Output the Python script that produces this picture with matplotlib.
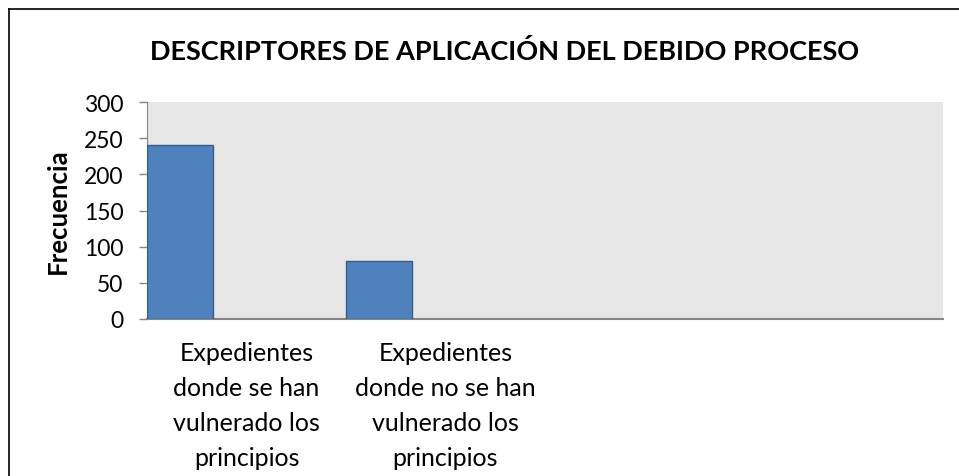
import numpy as np
import matplotlib
matplotlib.use("Agg")
from matplotlib import pyplot as plt
from matplotlib.lines import Line2D

# datos
categorias = [
    "Expedientes\ndonde se han\nvulnerado los\nprincipios",
    "Expedientes\ndonde no se han\nvulnerado los\nprincipios",
    "",
    "",
]
frecuencia = [240, 80, np.nan, np.nan]
yticks = [0, 50, 100, 150, 200, 250, 300]

plt.rcParams['font.family'] = ['Lato', 'DejaVu Sans']

W, H = 959, 477
fig = plt.figure(figsize=(W / 100, H / 100), dpi=100)
ax = fig.add_axes([147 / W, 1 - 320 / H, (943 - 147) / W, (320 - 103) / H])

ax.set_facecolor('#E6E6E6')
x = np.arange(len(categorias))
ax.bar(x, frecuencia, width=1 / 3, align='edge', color='#4F81BD',
       edgecolor='#385D8A', linewidth=1, zorder=3)

ax.set_xlim(0, len(categorias))
ax.set_ylim(0, 300)
ax.set_yticks(yticks)
ax.set_yticklabels([str(v) for v in yticks], fontsize=16.5)
ax.set_xticks(x + 0.5)
ax.set_xticklabels(categorias, fontsize=18, linespacing=1.62, va='top')
ax.tick_params(axis='x', length=0, pad=16)
ax.tick_params(axis='y', length=6, color='#868686', width=1, pad=11)

for s in ['top', 'right']:
    ax.spines[s].set_visible(False)
ax.spines['left'].set_color('#868686')
ax.spines['bottom'].set_color('#868686')
ax.spines['bottom'].set_linewidth(1.5)

ax.set_ylabel('Frecuencia', fontsize=18.5, fontweight='bold')
ax.yaxis.set_label_coords((70 - 147) / 796, 0.5)

fig.text(505 / W, 1 - 52 / H, 'DESCRIPTORES DE APLICACIÓN DEL DEBIDO PROCESO',
         ha='center', va='center', fontsize=19.5, fontweight='bold')

# marco del area del grafico (cortado a la derecha y abajo)
fig.add_artist(Line2D([9 / W, 9 / W], [0, 1 - 10 / H], transform=fig.transFigure,
                      color='black', lw=1.2))
fig.add_artist(Line2D([9 / W, 1], [1 - 10 / H, 1 - 10 / H], transform=fig.transFigure,
                      color='black', lw=1.2))

fig.savefig('out.png', dpi=100)
